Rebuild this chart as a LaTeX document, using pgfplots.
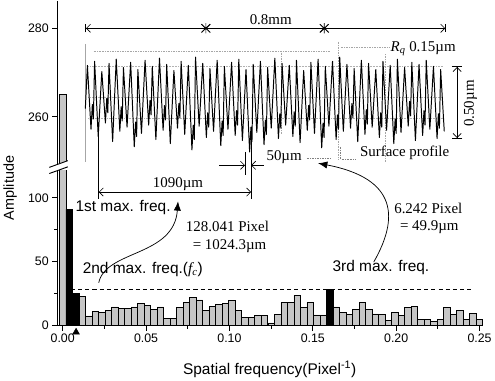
\documentclass[border=0pt]{standalone}
\usepackage{pgfplots}
\pgfplotsset{compat=1.18}
\usepackage{fontspec}
\setmainfont{Liberation Sans}
\newfontfamily\serif{Liberation Serif}
\usetikzlibrary{arrows.meta}
\newcommand\sfa{\fontsize{15}{17}\selectfont}
\newcommand\sra{\serif\fontsize{14.5}{16}\selectfont}
\begin{document}
\begin{tikzpicture}
% ---------- lower part of the broken axis ----------
\begin{axis}[
 at={(65pt,55.5pt)}, anchor=south west,
 scale only axis, width=413pt, height=150pt,
 xmin=-0.0031, xmax=0.252, ymin=0, ymax=121,
 axis x line*=bottom, axis y line*=left,
 axis line style={line width=1pt},
 tick align=outside, tick style={line width=0.9pt, black},
 major tick length=5pt, minor tick length=3pt,
 xtick={0,0.05,0.1,0.15,0.2,0.25},
 xticklabels={0.00,0.05,0.10,0.15,0.20,0.25},
 minor xtick={0.025,0.075,0.125,0.175,0.225},
 ytick={0,50,100}, minor ytick={25,75},
 tick label style={font=\fontsize{12}{14}\selectfont},
 /pgf/number format/assume math mode=true,
 bar width=0.0039,
 clip=true,
]
\addplot[ybar, bar shift=0pt, fill=gray!45, draw=black, line width=0.7pt] coordinates {
(0,265) (0.01172,22.5) (0.01563,7.5) (0.01953,11) (0.02344,10.5) (0.02734,11.5)
(0.03125,14.5) (0.03516,13.5) (0.03906,13) (0.04297,14.5) (0.04688,17.5) (0.05078,16)
(0.05469,12.5) (0.05859,14.5) (0.0625,5.5) (0.06641,5.3) (0.07031,14.4) (0.07422,18)
(0.07813,21.8) (0.08203,20) (0.08594,11.8) (0.08984,15) (0.09375,16.5) (0.09766,17.3)
(0.10156,19.8) (0.10547,11.5) (0.10938,6.3) (0.11328,6.2) (0.11719,8) (0.12109,7.7)
(0.125,2) (0.12891,8.3) (0.13281,18) (0.13672,18) (0.14063,23.5) (0.14453,14.3)
(0.14844,18) (0.15234,8.2) (0.15625,8.2) (0.16406,14.5) (0.16797,10) (0.17188,8.5)
(0.17578,12.5) (0.17969,18) (0.18359,12.5) (0.1875,9) (0.19141,8.5) (0.19531,3.6)
(0.19922,10) (0.20313,8) (0.20703,14.4) (0.21094,15.2) (0.21484,4.5) (0.21875,5)
(0.22266,3) (0.22656,5) (0.23047,14) (0.23438,8.5) (0.23828,11.7) (0.24219,5)
(0.24609,9.3) (0.25,4.5)};
\addplot[ybar, bar shift=0pt, fill=black, draw=black, line width=0.7pt] coordinates {
(0.00391,91) (0.00781,25) (0.16016,28.3)};
\addplot[black, line width=0.8pt, dash pattern=on 4pt off 3pt] coordinates {(0.0049,28) (0.245,28)};
\end{axis}
% ---------- upper part of the broken axis ----------
\begin{axis}[
 at={(65pt,209pt)}, anchor=south west,
 scale only axis, width=413pt, height=162pt,
 xmin=-0.0031, xmax=0.252, ymin=248.6, ymax=286.3,
 axis x line=none, axis y line*=left,
 axis line style={line width=1pt},
 tick align=outside, tick style={line width=0.9pt, black},
 major tick length=5pt,
 ytick={260,280},
 tick label style={font=\fontsize{12}{14}\selectfont},
 /pgf/number format/assume math mode=true,
 bar width=0.0039,
 clip=true,
]
\addplot[ybar, bar shift=0pt, fill=gray!45, draw=black, line width=0.7pt] coordinates {(0,265)};
\end{axis}
% ---------- overlay in pixel units (x = px, y = -px) ----------
\begin{axis}[
 at={(0pt,0pt)}, anchor=south west,
 scale only axis, width=495pt, height=374pt,
 xmin=0, xmax=495, ymin=-374, ymax=0,
 hide axis, clip=false,
]
% axis break
\fill[white] (56,-171) -- (76,-164) -- (76,-158) -- (56,-165) -- cycle;
\draw[line width=0.9pt] (57,-171) -- (75,-164.5);
\draw[line width=0.9pt] (57,-165) -- (75,-158.5);
% marker under the 2nd maximum
\addplot[only marks, mark=triangle*, mark size=3.8pt, black] coordinates {(83,-325)};
% axis titles
\node[rotate=90, font=\fontsize{14}{16}\selectfont] at (19,-185) {Amplitude};
\node[font=\fontsize{15}{17}\selectfont] at (271,-361) {Spatial frequency(Pixel\textsuperscript{-1})};
% inset: faint grid of the surface profile
\draw[gray!60, densely dotted, line width=0.5pt] (95,-67) -- (440,-67);
\draw[gray!60, densely dotted, line width=0.5pt] (95,-97) -- (440,-97);
\draw[gray!60, densely dotted, line width=0.5pt] (95,-117) -- (440,-117);
\draw[gray!70, densely dotted, line width=0.6pt] (100,-52) -- (330,-52);
\draw[gray!70, densely dotted, line width=0.6pt] (340,-48) -- (387,-48);
\draw[gray!70, densely dotted, line width=0.6pt] (282,-52) -- (282,-133);
\draw[gray!70, densely dotted, line width=0.6pt] (338,-43) -- (338,-157);
\draw[gray!70, densely dotted, line width=0.6pt] (383,-55) -- (383,-160);
\draw[gray!70, line width=0.5pt] (92,-45) -- (92,-160);
% surface profile
\addplot[black, line width=0.95pt, line join=round] coordinates {
(92,-108)
(94,-66) (97.5,-128) (98.8,-104) (99.8,-118)
(101,-62) (104.5,-135)
(108,-72) (111.5,-122) (112.8,-98) (113.8,-112)
(115,-64) (118.5,-140)
(122,-60) (125.5,-130) (126.8,-106) (127.8,-120)
(129,-68) (132.5,-126)
(136,-63) (139.5,-145) (140.8,-121) (141.8,-135)
(143,-70) (146.5,-132)
(150,-61) (153.5,-124) (154.8,-100) (155.8,-114)
(157,-67) (160.5,-138)
(164,-59) (167.5,-129) (168.8,-105) (169.8,-119)
(171,-65) (174.5,-142)
(178,-71) (181.5,-127) (182.8,-103) (183.8,-117)
(185,-62) (188.5,-133)
(192,-66) (195.5,-148) (196.8,-124) (197.8,-138)
(199,-58) (202.5,-125)
(206,-64) (209.5,-136) (210.8,-112) (211.8,-126)
(213,-69) (216.5,-130)
(220,-61) (223.5,-144) (224.8,-120) (225.8,-134)
(227,-67) (230.5,-128)
(234,-63) (237.5,-134) (238.8,-110) (239.8,-124)
(241,-60) (244.5,-139)
(248,-70) (251.5,-150) (252.8,-126) (253.8,-140)
(255,-65) (258.5,-131)
(262,-62) (265.5,-143) (266.8,-119) (267.8,-133)
(269,-68) (272.5,-127)
(276,-59) (279.5,-137) (280.8,-113) (281.8,-127)
(283,-64) (286.5,-124)
(290,-66) (293.5,-135) (294.8,-111) (295.8,-125)
(297,-61) (300.5,-141)
(304,-71) (307.5,-129) (308.8,-105) (309.8,-119)
(311,-63) (314.5,-132)
(318,-60) (321.5,-146) (322.8,-122) (323.8,-136)
(325,-67) (328.5,-125)
(332,-62) (335.5,-138) (336.8,-114) (337.8,-128)
(339,-58) (342.5,-130)
(346,-65) (349.5,-127) (350.8,-103) (351.8,-117)
(353,-69) (356.5,-140)
(360,-61) (363.5,-133) (364.8,-109) (365.8,-123)
(367,-64) (370.5,-126)
(374,-70) (377.5,-136) (378.8,-112) (379.8,-126)
(381,-62) (384.5,-129)
(388,-66) (391.5,-142) (392.8,-118) (393.8,-132)
(395,-60) (398.5,-131)
(402,-68) (405.5,-125) (406.8,-101) (407.8,-115)
(409,-63) (412.5,-139)
(416,-65) (419.5,-134) (420.8,-110) (421.8,-124)
(423,-61) (426.5,-128)
(430,-67) (433.5,-137) (434.8,-113) (435.8,-127)
(437,-70) (440.5,-130)};
% 0.8 mm dimension line
\draw[line width=0.6pt, {Bar[width=8pt]Straight Barb[length=4pt]}-{Straight Barb[length=4pt]}] (92,-30) -- (209,-30);
\draw[line width=0.6pt, {Straight Barb[length=4pt]}-{Straight Barb[length=4pt]}] (209,-30) -- (324,-30);
\draw[line width=0.6pt, {Straight Barb[length=4pt]}-{Straight Barb[length=4pt]Bar[width=8pt]}] (324,-30) -- (442,-30);
\draw[line width=0.6pt] (209,-25) -- (209,-35) (205,-26) -- (213,-34) (205,-34) -- (213,-26);
\draw[line width=0.6pt] (324,-25) -- (324,-35) (320,-26) -- (328,-34) (320,-34) -- (328,-26);
\node[font=\sra] at (272,-22) {0.8mm};
% Rq and vertical scale bar
\node[font=\sra, fill=white, inner sep=0.5pt] at (420,-50) {\textit{R}\textsubscript{\textit{q}} 0.15µm};
\draw[line width=0.6pt, {Bar[width=10pt]Straight Barb[length=4pt]}-{Straight Barb[length=4pt]Bar[width=10pt]}] (453,-67) -- (453,-137);
\node[font=\sra, rotate=90] at (466,-103) {0.50µm};
% surface profile label
\draw[gray, densely dotted, line width=0.6pt] (340,-145) -- (340,-157) -- (355,-157);
\node[font=\sra] at (402,-151) {Surface profile};
\node[font=\sra] at (285,-155) {50µm};
\draw[gray, densely dotted, line width=0.6pt] (307,-156) -- (330,-156);
% 50 um and 1090 um markers
\draw[line width=0.6pt] (105,-127) -- (105,-196);
\draw[line width=0.6pt] (253,-127) -- (253,-196);
\draw[line width=0.6pt] (247,-150) -- (247,-172);
\draw[line width=0.6pt, -{Straight Barb[length=4pt]}] (222,-163) -- (247,-163);
\draw[line width=0.6pt, -{Straight Barb[length=4pt]}] (265,-163) -- (253,-163);
\draw[line width=0.6pt, {Straight Barb[length=4pt]}-{Straight Barb[length=4pt]}] (105,-189) -- (253,-189);
\node[font=\sra] at (182,-181) {1090µm};
% annotations of the maxima
\node[font=\sfa, anchor=west] at (79,-204) {1st max. freq.};
\node[font=\sfa, anchor=west] at (86,-264) {2nd max. freq.({\serif\itshape f}\textsubscript{\serif\itshape c})};
\draw[line width=0.7pt, -{Latex[length=9pt,width=7pt]}] (105,-277) .. controls (112,-245) and (178,-252) .. (182,-198);
\node[font=\sra] at (230,-222) {128.041 Pixel};
\node[font=\sra] at (232,-241) {= 1024.3µm};
\node[font=\sra] at (425,-205) {6.242 Pixel};
\node[font=\sra] at (426,-223) {= 49.9µm};
\node[font=\sfa] at (379,-262) {3rd max. freq.};
\draw[line width=0.7pt, -{Latex[length=9pt,width=7pt]}] (372,-257) .. controls (396,-215) and (396,-176) .. (318,-161);
\end{axis}
\end{tikzpicture}
\end{document}
